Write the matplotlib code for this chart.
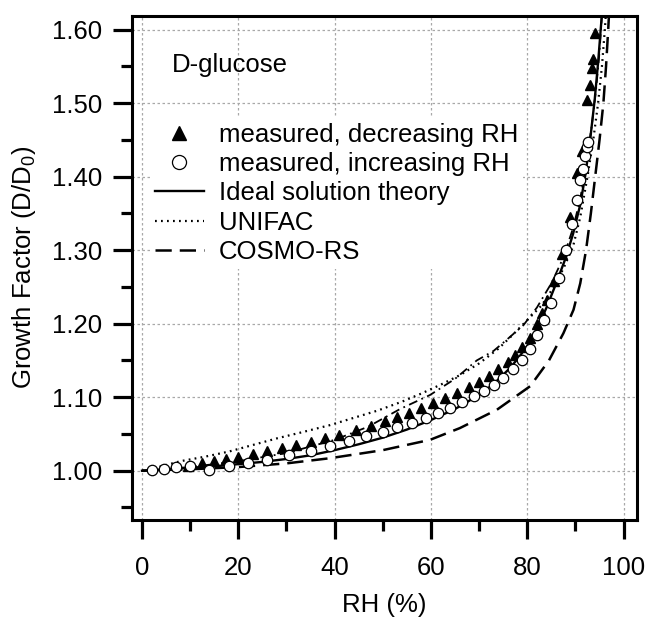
import matplotlib
matplotlib.use('Agg')
import matplotlib.pyplot as plt
from matplotlib.ticker import MultipleLocator, FormatStrFormatter

plt.rcParams['font.family'] = ['Liberation Sans', 'DejaVu Sans']
plt.rcParams['mathtext.fontset'] = 'custom'
plt.rcParams['mathtext.rm'] = 'Liberation Sans'

# measured growth factors, decreasing RH (triangles)
dec_rh = [9.5, 12.5, 15, 17.5, 20, 23, 26, 29, 32, 35, 38, 41, 44.5, 47.5, 50.5, 53,
          55.5, 58, 60.5, 63, 65.5, 68, 70, 72, 74, 76, 77.5, 79, 80.5, 82, 83, 84,
          85.5, 87.2, 88.9, 90.4, 91.3, 92.5, 93.0, 93.4, 93.7, 94.1]
dec_gf = [1.007, 1.010, 1.013, 1.016, 1.019, 1.023, 1.027, 1.031, 1.035, 1.039, 1.044,
          1.049, 1.055, 1.061, 1.067, 1.073, 1.079, 1.085, 1.092, 1.099, 1.106, 1.114,
          1.121, 1.129, 1.138, 1.148, 1.157, 1.168, 1.180, 1.200, 1.215, 1.232,
          1.258, 1.295, 1.345, 1.405, 1.435, 1.505, 1.525, 1.548, 1.560, 1.595]

# measured growth factors, increasing RH (circles)
inc_rh = [2, 4.5, 7, 10, 14, 18, 22, 26, 30.5, 35, 39, 43, 46.5, 50, 53, 56, 59, 61.5,
          64, 66.5, 69, 71, 73, 75, 77, 79, 80.5, 82, 83.5, 85, 86.5, 88, 89.3, 90.3,
          91.0, 91.5, 92.0, 92.4, 92.7]
inc_gf = [1.001, 1.003, 1.005, 1.007, 1.001, 1.007, 1.011, 1.015, 1.021, 1.027, 1.034,
          1.040, 1.047, 1.053, 1.059, 1.065, 1.072, 1.079, 1.086, 1.093, 1.101, 1.109,
          1.117, 1.126, 1.138, 1.150, 1.165, 1.185, 1.205, 1.228, 1.262, 1.300, 1.335,
          1.368, 1.395, 1.410, 1.428, 1.440, 1.447]

# ideal solution theory
ideal_rh = [0, 5, 10, 15, 20, 25, 30, 35, 40, 45, 50, 55, 60, 65, 70, 73, 76, 78, 80,
            82, 84, 86, 88, 89.5, 91, 92, 93, 94, 94.7, 95.3, 95.6]
ideal_gf = [1.000, 1.002, 1.004, 1.006, 1.009, 1.012, 1.016, 1.021, 1.028, 1.036, 1.045,
            1.056, 1.069, 1.084, 1.103, 1.118, 1.137, 1.152, 1.170, 1.193, 1.222, 1.255,
            1.290, 1.322, 1.362, 1.400, 1.447, 1.505, 1.555, 1.605, 1.630]

# UNIFAC
unifac_rh = [0, 4, 8, 13, 18, 23, 28, 33, 39, 44, 49, 54, 58, 62, 66, 70, 74, 77, 80,
             83, 85.5, 87.5, 89.5, 91, 92.5, 93.7, 94.7, 95.5, 96.1, 96.4]
unifac_gf = [1.000, 1.006, 1.013, 1.019, 1.026, 1.035, 1.044, 1.052, 1.062, 1.072, 1.082,
             1.094, 1.105, 1.117, 1.130, 1.146, 1.166, 1.185, 1.205, 1.225, 1.250, 1.275,
             1.305, 1.345, 1.400, 1.450, 1.500, 1.550, 1.600, 1.630]

# COSMO-RS
cosmo_rh = [0, 10, 20, 30, 39, 50, 59.8, 66, 73.7, 80.6, 84.5, 87.5, 89.6, 91, 92.2,
            93.2, 94.1, 95.0, 95.8, 96.35, 96.8, 97.0]
cosmo_gf = [1.000, 1.002, 1.005, 1.010, 1.017, 1.028, 1.042, 1.058, 1.083, 1.115, 1.150,
            1.187, 1.219, 1.255, 1.300, 1.350, 1.400, 1.450, 1.500, 1.550, 1.600, 1.625]

# extra model curve (dash-dot, not in legend)
extra_rh = [0, 10, 20, 30, 40, 47, 53.6, 59.8, 65, 69.5, 73, 75.7, 79.2, 82, 85, 87.5,
            89.5, 91, 92.3, 93.4, 94.3, 95.0, 95.5]
extra_gf = [1.000, 1.005, 1.013, 1.024, 1.042, 1.060, 1.084, 1.103, 1.125, 1.150, 1.163,
            1.178, 1.198, 1.222, 1.255, 1.290, 1.330, 1.370, 1.420, 1.470, 1.520, 1.570,
            1.620]

fig = plt.figure(figsize=(6.5, 6.18), dpi=100)
ax = fig.add_axes([0.2026, 0.1586, 0.7768, 0.816])

ax.plot(ideal_rh, ideal_gf, color='black', lw=1.7, label='Ideal solution theory', zorder=4)
ax.plot(unifac_rh, unifac_gf, color='black', lw=1.6, linestyle=(0, (0.8, 1.9)),
        label='UNIFAC', zorder=4)
ax.plot(cosmo_rh, cosmo_gf, color='black', lw=1.8, linestyle=(0, (6.5, 3.2)),
        label='COSMO-RS', zorder=4)
ax.plot(extra_rh, extra_gf, color='black', lw=1.3, linestyle=(0, (5, 2.5, 1, 2.5)), zorder=4)

ax.plot(dec_rh, dec_gf, linestyle='none', marker='^', ms=7.5, color='black',
        label='measured, decreasing RH', zorder=5)
ax.plot(inc_rh, inc_gf, linestyle='none', marker='o', ms=7.5, mfc='white', mec='black',
        mew=0.9, label='measured, increasing RH', zorder=6)

ax.set_xlim(-2.14, 102.7)
ax.set_ylim(0.933, 1.619)
ax.xaxis.set_major_locator(MultipleLocator(20))
ax.xaxis.set_minor_locator(MultipleLocator(10))
ax.yaxis.set_major_locator(MultipleLocator(0.1))
ax.yaxis.set_minor_locator(MultipleLocator(0.05))
ax.yaxis.set_major_formatter(FormatStrFormatter('%.2f'))

ax.grid(True, which='major', color='#a8a8a8', linestyle=(0, (2, 2)), lw=0.9)
ax.set_axisbelow(True)

for s in ax.spines.values():
    s.set_linewidth(2.2)
ax.tick_params(which='both', direction='out', width=2.3, labelsize=18.5, top=False, right=False)
ax.tick_params(which='major', length=14)
ax.tick_params(which='minor', length=8)
ax.tick_params(axis='x', pad=12)
ax.tick_params(axis='y', pad=7)

ax.set_xlabel('RH (%)', fontsize=18.5, labelpad=9)
ax.set_ylabel('Growth Factor (D/D$_\\mathregular{0}$)', fontsize=18.5, labelpad=10)

ax.text(6.2, 1.552, 'D-glucose', fontsize=18.5, ha='left', va='center', zorder=7)

handles, labels = ax.get_legend_handles_labels()
order = [3, 4, 0, 1, 2]
leg = ax.legend([handles[i] for i in order], [labels[i] for i in order],
                loc='upper left', bbox_to_anchor=(0.036, 0.797), fontsize=18.5,
                frameon=True, framealpha=1, edgecolor='none', fancybox=False,
                borderpad=0.2, borderaxespad=0, labelspacing=0.2,
                handlelength=1.9, handletextpad=0.58, markerscale=1.35)
leg.set_zorder(8)

plt.savefig('out.png', dpi=100)
